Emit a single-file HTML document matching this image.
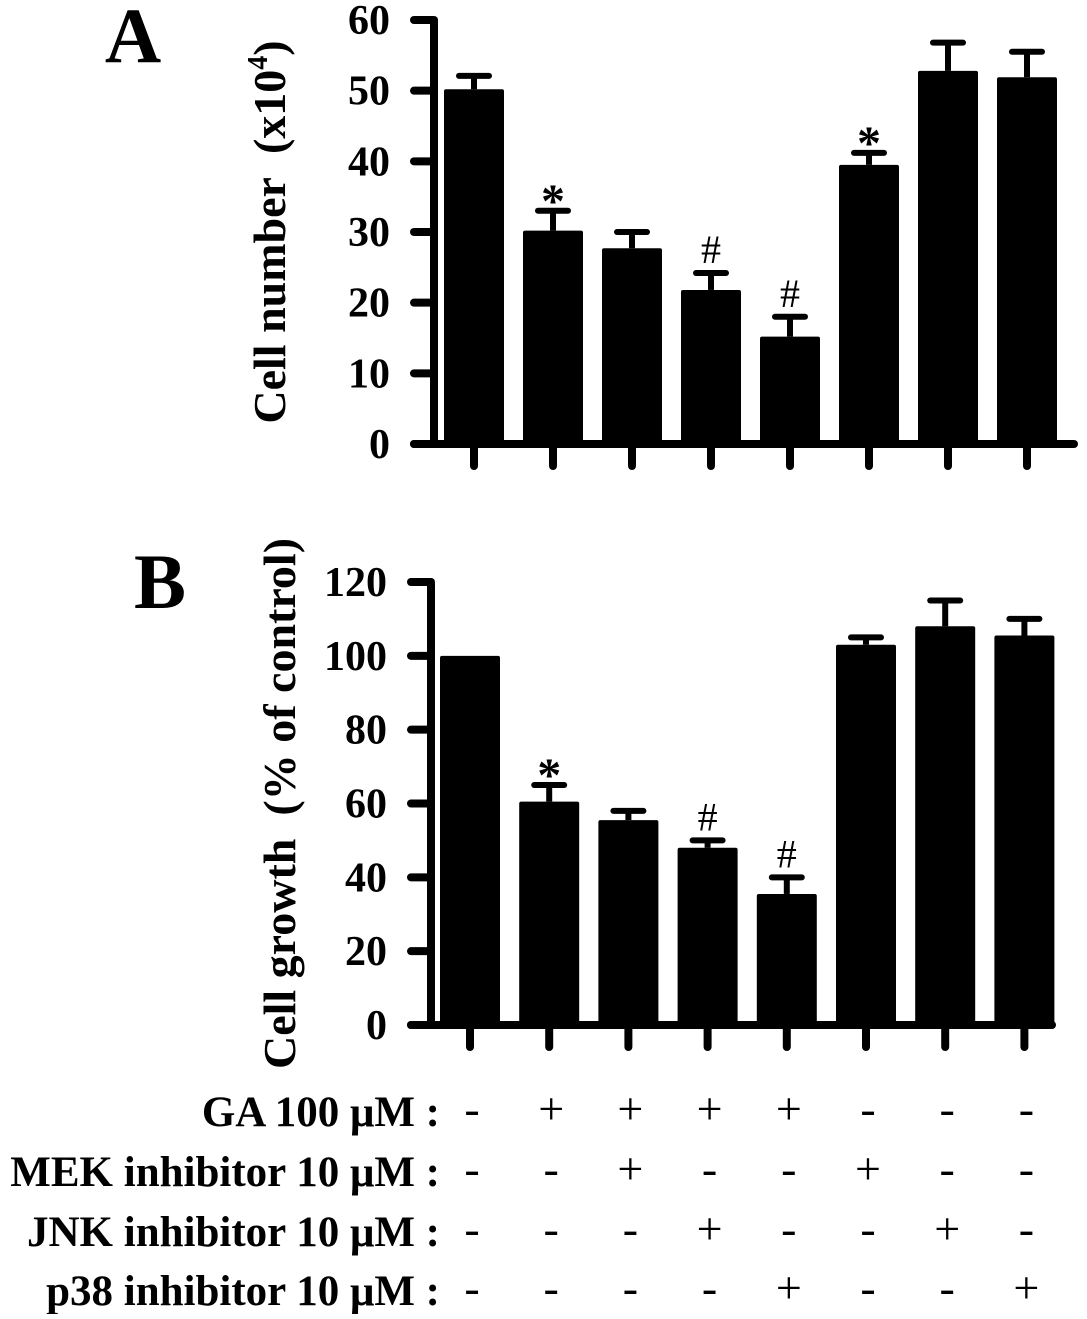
<!DOCTYPE html>
<html><head><meta charset="utf-8"><style>
body{margin:0;background:#fff;}
svg text{font-family:"Liberation Serif",serif;font-weight:bold;fill:#000;}
</style></head><body>
<svg id="c" width="1087" height="1314" xmlns="http://www.w3.org/2000/svg"></svg>
<script>
const groups=["control","GA","GA+MEK","GA+JNK","GA+p38","MEK","JNK","p38"];
const valuesA=[50.2,30.2,27.7,21.8,15.2,39.5,52.8,51.9];
const errorsA=[1.9,2.8,2.3,2.4,2.8,1.7,4.0,3.6];
const marksA=["","*","","#","#","*","",""];
const ticksA=[0,10,20,30,40,50,60];
const valuesB=[100,60.5,55.5,48,35.5,103,108,105.5];
const errorsB=[0,4.5,2.5,2,4.5,2,7,4.5];
const marksB=["","*","","#","#","","",""];
const ticksB=[0,20,40,60,80,100,120];
const rowLabels=["GA 100 μM :","MEK inhibitor 10 μM :","JNK inhibitor 10 μM :","p38 inhibitor 10 μM :"];
const rowSigns=[["-","+","+","+","+","-","-","-"],["-","-","+","-","-","+","-","-"],["-","-","-","+","-","-","+","-"],["-","-","-","-","+","-","-","+"]];
const svg=document.getElementById('c');
const NS="http://www.w3.org/2000/svg";
function mk(t,a,p){const e=document.createElementNS(NS,t);for(const k in a)e.setAttribute(k,a[k]);(p||svg).appendChild(e);return e;}
function panel(o){
  const g=mk('g',{});
  
  
  const y=v=>o.y0-(v/o.max)*(o.y0-o.yTop);
  const x=i=>o.xFirst+i*o.step;
  const ax=mk('line',{x1:o.ax,y1:o.yTop,x2:o.ax,y2:o.y0+4,stroke:'#000','stroke-width':8},g);
  
  const xa=mk('line',{x1:o.ax-20,y1:o.y0,x2:o.xEnd,y2:o.y0,stroke:'#000','stroke-width':8,'stroke-linecap':'round'},g);
  
  o.ticks.forEach(t=>{
    mk('line',{x1:o.ax-20,y1:y(t),x2:o.ax,y2:y(t),stroke:'#000','stroke-width':8,'stroke-linecap':'round'},g);
    const tx=mk('text',{x:o.ax-44,y:y(t)+14,'text-anchor':'end','font-size':42},g);
    tx.textContent=t;
    
  });
  o.vals.forEach((v,i)=>{
    const cx=x(i);
    const r=mk('rect',{x:cx-30,y:y(v),width:60,height:o.y0-y(v),fill:'#000',rx:2},g);
    
    
    const e=o.errs[i];
    if(e>0){
      mk('line',{x1:cx,y1:y(v),x2:cx,y2:y(v+e),stroke:'#000','stroke-width':6},g);
      mk('line',{x1:cx-15,y1:y(v+e),x2:cx+15,y2:y(v+e),stroke:'#000','stroke-width':6,'stroke-linecap':'round'},g);
    }
    mk('line',{x1:cx,y1:o.y0,x2:cx,y2:o.y0+22,stroke:'#000','stroke-width':8,'stroke-linecap':'round'},g);
    if(o.marks[i]){
      const star=o.marks[i]=='*';
      const m=mk('text',{x:cx,y:y(v+e)-(star?-6:10),'text-anchor':'middle','font-size':star?48:40},g);
      m.style.fontWeight=star?'bold':'normal';
      m.textContent=o.marks[i];
      
    }
  });
  const tt=mk('text',{transform:`translate(${o.titleX},${(o.y0+o.yTop)/2}) rotate(-90)`,'text-anchor':'middle','font-size':46},g);
  tt.innerHTML=o.title;
  
  const L=mk('text',{x:o.letterX,y:o.letterY,'text-anchor':'middle','font-size':78},g);
  L.textContent=o.letter;
  
}
panel({name:'panel-a',vals:valuesA,errs:errorsA,marks:marksA,ticks:ticksA,max:60,y0:444,yTop:20,ax:434,xFirst:474,step:79,xEnd:1074,title:'Cell number\u00a0\u00a0(x10<tspan dy="-18" font-size="28">4</tspan><tspan dy="18">)</tspan>',titleX:285,letter:'A',letterX:133,letterY:62});
panel({name:'panel-b',vals:valuesB,errs:errorsB,marks:marksB,ticks:ticksB,max:120,y0:1025,yTop:582,ax:431,xFirst:470,step:79.2,xEnd:1052,title:'Cell growth\u00a0\u00a0(% of control)',titleX:295,letter:'B',letterX:160,letterY:608});
const rowY=[1126,1186,1246,1305];
rowLabels.forEach((lab,r)=>{
  const t=mk('text',{x:440,y:rowY[r],'text-anchor':'end','font-size':43});
  t.textContent=lab;
  
  rowSigns[r].forEach((s,i)=>{
    const st=mk('text',{x:472+i*79.2,y:rowY[r]-2,'text-anchor':'middle','font-size':46});
    st.style.fontWeight='normal';
    st.textContent=s;
    
  });
});
</script>
</body></html>
